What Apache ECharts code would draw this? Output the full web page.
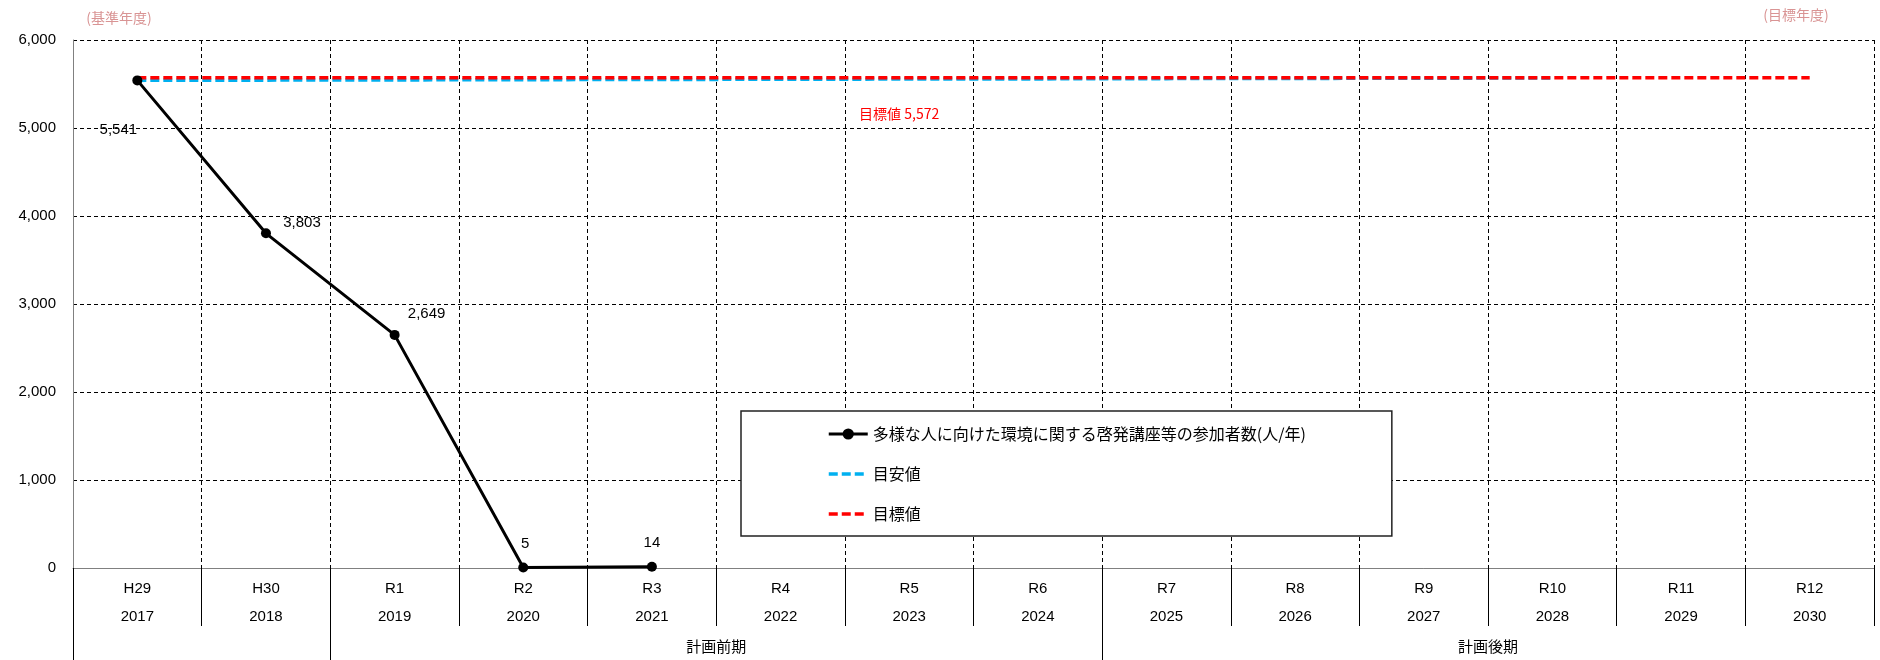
<!DOCTYPE html>
<html>
<head>
<meta charset="utf-8">
<script src="https://cdn.jsdelivr.net/npm/echarts@6/dist/echarts.min.js"></script>
<style>
  html, body { margin: 0; padding: 0; background: #fff; }
  #main { width: 1880px; height: 660px; }
</style>
</head>
<body>
<div id="main"></div>
<script>
// fiscal years (Japanese era + western year)
const eraLabels = ['H29', 'H30', 'R1', 'R2', 'R3', 'R4', 'R5', 'R6', 'R7', 'R8', 'R9', 'R10', 'R11', 'R12'];
const yearLabels = ['2017', '2018', '2019', '2020', '2021', '2022', '2023', '2024', '2025', '2026', '2027', '2028', '2029', '2030'];

// series values
const participants = [5541, 3803, 2649, 5, 14, null, null, null, null, null, null, null, null, null];
const guideValues = [5541, 5544, 5546, 5549, 5551, 5554, 5556, 5558, 5561, 5563, 5566, 5568, null, null];
const targetValues = [5572, 5572, 5572, 5572, 5572, 5572, 5572, 5572, 5572, 5572, 5572, 5572, 5572, 5572];

// plan periods
const periodNames = ['計画前期', '計画後期'];
const periodFrom = [2, 8];
const periodTo = [8, 14];

const seriesNames = ['多様な人に向けた環境に関する啓発講座等の参加者数(人/年)', '目安値', '目標値'];

const cjkFont = '"Noto Sans CJK JP", sans-serif';
const numFont = '"Liberation Sans", Arial, sans-serif';
const narrowFont = '"Liberation Sans Narrow", "Liberation Sans", sans-serif';

// label offsets for the black line points
const labelOffsets = [[-19, 49], [36, -10], [32, -21], [2, -24], [0, -24]];

const chart = echarts.init(document.getElementById('main'));

const option = {
  animation: false,
  backgroundColor: '#fff',
  grid: { left: 73, right: 6, top: 40, bottom: 92 },
  legend: {
    orient: 'vertical',
    left: 741,
    top: 411,
    padding: [15, 86, 14, 86],
    itemGap: 24,
    itemWidth: 39,
    itemHeight: 14,
    borderColor: '#222',
    borderWidth: 1.5,
    backgroundColor: '#fff',
    textStyle: { fontSize: 16, fontFamily: cjkFont, color: '#000' },
    data: [
      { name: seriesNames[0], lineStyle: { width: 3, color: '#000' }, itemStyle: { color: '#000' } },
      { name: seriesNames[1], lineStyle: { width: 3.5, color: '#00b0f0', type: [9, 4] }, itemStyle: { opacity: 0 } },
      { name: seriesNames[2], lineStyle: { width: 3.5, color: '#ff0000', type: [9, 4] }, itemStyle: { opacity: 0 } }
    ]
  },
  xAxis: {
    type: 'category',
    boundaryGap: true,
    data: eraLabels.map((e, i) => e + '\n' + yearLabels[i]),
    axisLine: { lineStyle: { color: '#808080', width: 1 } },
    axisTick: { show: true, length: 58, lineStyle: { color: '#000', width: 1 } },
    axisLabel: {
      margin: 7,
      fontSize: 15,
      lineHeight: 28,
      fontFamily: narrowFont,
      color: '#000'
    },
    splitLine: { show: true, lineStyle: { color: '#000', type: [4, 3], width: 1 } }
  },
  yAxis: {
    type: 'value',
    min: 0,
    max: 6000,
    interval: 1000,
    axisLine: { show: true, lineStyle: { color: '#808080', width: 1 } },
    axisTick: { show: false },
    axisLabel: {
      margin: 17,
      fontSize: 15,
      fontFamily: numFont,
      color: '#000',
      formatter: v => v.toLocaleString('en-US')
    },
    splitLine: { show: true, lineStyle: { color: '#000', type: [4, 3], width: 1 } }
  },
  series: [
    {
      name: seriesNames[1],
      type: 'line',
      z: 2,
      symbol: 'none',
      data: guideValues,
      color: '#00b0f0',
      lineStyle: { color: '#00b0f0', width: 3.5, type: [9, 4] }
    },
    {
      name: seriesNames[2],
      type: 'line',
      z: 3,
      symbol: 'none',
      data: targetValues,
      color: '#ff0000',
      lineStyle: { color: '#ff0000', width: 3.5, type: [9, 4] },
      markPoint: {
        symbol: 'circle',
        symbolSize: 0,
        data: [{ coord: [6, targetValues[6]], value: targetValues[6] }],
        label: {
          show: true,
          position: 'inside',
          offset: [-10, 36],
          color: '#ff0000',
          fontSize: 14,
          fontFamily: cjkFont,
          formatter: p => '目標値 ' + p.value.toLocaleString('en-US')
        }
      }
    },
    {
      name: seriesNames[0],
      type: 'line',
      z: 5,
      symbol: 'circle',
      symbolSize: 10,
      color: '#000',
      itemStyle: { color: '#000' },
      lineStyle: { color: '#000', width: 3 },
      data: participants.map((v, i) => v === null ? null : {
        value: v,
        label: {
          show: true,
          position: 'inside',
          offset: labelOffsets[i],
          color: '#000',
          fontSize: 15,
          fontFamily: numFont,
          formatter: p => p.value.toLocaleString('en-US')
        }
      })
    }
  ]
};

chart.setOption(option);

// separators and plan period labels under the axis
const cx = i => chart.convertToPixel({ xAxisIndex: 0 }, i);
const step = cx(1) - cx(0);
const edge = i => cx(i) - step / 2;
const y0 = chart.convertToPixel({ yAxisIndex: 0 }, 0);

const graphics = [];
[0, periodFrom[0], periodFrom[1]].forEach((idx) => {
  graphics.push({
    type: 'line',
    shape: { x1: Math.round(edge(idx)) + 0.5, y1: y0, x2: Math.round(edge(idx)) + 0.5, y2: 660 },
    style: { stroke: '#000', lineWidth: 1 }
  });
});
periodNames.forEach((name, k) => {
  graphics.push({
    type: 'text',
    x: (edge(periodFrom[k]) + edge(periodTo[k])) / 2,
    y: 646,
    style: {
      text: name, fill: '#000', font: '15px ' + cjkFont,
      textAlign: 'center', textVerticalAlign: 'middle'
    }
  });
});
graphics.push({
  type: 'text', x: 119, y: 18,
  style: { text: '(基準年度)', fill: '#d99494', font: '14px ' + cjkFont, textAlign: 'center', textVerticalAlign: 'middle' }
});
graphics.push({
  type: 'text', x: 1796, y: 15,
  style: { text: '(目標年度)', fill: '#d99494', font: '14px ' + cjkFont, textAlign: 'center', textVerticalAlign: 'middle' }
});
chart.setOption({ graphic: graphics });
</script>
</body>
</html>
